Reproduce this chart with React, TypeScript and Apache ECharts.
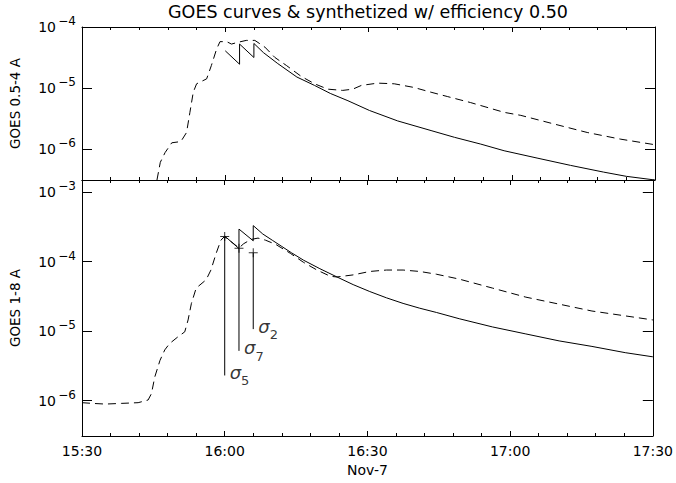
import React, { useEffect, useRef } from "react";
import * as echarts from "echarts";

// Time in minutes after 15:30 (Nov-7); flux in W/m^2
const xTickLabels = ["15:30", "16:00", "16:30", "17:00", "17:30"];
const xAxisName = "Nov-7";
const titleText = "GOES curves & synthetized w/ efficiency 0.50";
const topAxisName = "GOES 0.5-4 A";
const bottomAxisName = "GOES 1-8 A";
const topDecades = [-6, -5, -4];
const bottomDecades = [-6, -5, -4, -3];

// Top panel (0.5-4 A): observed (dashed)
const topObsTime = [15.7, 16.4, 17.4, 18.8, 20.7, 21.9, 22.6, 23.3, 24.0, 26.1, 27.1, 28.2, 28.9, 30.3, 31.3, 32.7, 34.4, 36.2, 38.3, 40.4, 42.8, 45.9, 48.7, 51.5, 54.6, 56.7, 58.5, 61.9, 65.4, 69.5, 73.1, 76.5, 81.4, 88.4, 91.9, 98.8, 105.8, 112.7, 120];
const topObsFlux = [3.09e-7, 6.03e-7, 8.71e-7, 1.26e-6, 1.32e-6, 1.86e-6, 3.98e-6, 8.51e-6, 1.17e-5, 1.41e-5, 2.34e-5, 4.37e-5, 5.75e-5, 5.75e-5, 5.25e-5, 5.62e-5, 6.03e-5, 6.03e-5, 4.68e-5, 3.16e-5, 2.34e-5, 1.55e-5, 1.17e-5, 9.55e-6, 9.12e-6, 9.55e-6, 1.10e-5, 1.20e-5, 1.17e-5, 1.02e-5, 8.51e-6, 7.24e-6, 5.75e-6, 3.98e-6, 3.55e-6, 2.57e-6, 1.86e-6, 1.45e-6, 1.17e-6];

// Top panel: synthesized (solid)
const topSynTime = [30, 33, 33, 36, 36, 38, 41, 45, 48.7, 52, 55.7, 60.2, 66.1, 73.1, 78, 83.5, 88.4, 95.3, 102.3, 109.2, 114, 120];
const topSynFlux = [4.07e-5, 2.45e-5, 5.25e-5, 3.16e-5, 5.37e-5, 3.80e-5, 2.51e-5, 1.51e-5, 1.10e-5, 8.13e-6, 6.17e-6, 4.27e-6, 2.88e-6, 2.00e-6, 1.55e-6, 1.20e-6, 9.33e-7, 7.08e-7, 5.37e-7, 4.17e-7, 3.55e-7, 3.09e-7];

// Bottom panel (1-8 A): observed (dashed)
const botObsTime = [0, 2.1, 4.9, 8.35, 11.8, 13.9, 14.6, 15.3, 16.4, 17.4, 18.4, 20.2, 21.6, 22.3, 23.0, 24.0, 26.1, 27.1, 28.2, 29.2, 29.9, 31.5, 33, 34, 35.5, 37, 38.6, 40.7, 43.8, 46.6, 49.4, 52.2, 53.6, 57.0, 60.5, 64.0, 67.5, 71.0, 74.5, 79.3, 86.3, 93.3, 100.3, 107.2, 114.2, 120];
const botObsFlux = [9.33e-7, 9.12e-7, 8.91e-7, 9.12e-7, 9.33e-7, 1.02e-6, 1.26e-6, 2.19e-6, 3.80e-6, 5.37e-6, 6.61e-6, 8.32e-6, 9.77e-6, 1.45e-5, 2.51e-5, 4.17e-5, 5.50e-5, 7.59e-5, 1.32e-4, 2.04e-4, 2.29e-4, 1.91e-4, 1.58e-4, 1.82e-4, 2.09e-4, 2.19e-4, 2.04e-4, 1.78e-4, 1.32e-4, 9.77e-5, 7.59e-5, 6.17e-5, 6.03e-5, 6.46e-5, 7.24e-5, 7.59e-5, 7.59e-5, 7.24e-5, 6.61e-5, 5.62e-5, 4.17e-5, 3.09e-5, 2.45e-5, 1.95e-5, 1.66e-5, 1.45e-5];

// Bottom panel: synthesized (solid)
const botSynTime = [30, 33, 33, 36, 36, 38, 40, 42, 44, 46.6, 50, 53.6, 57, 60.5, 64, 67.5, 71, 74.5, 79.3, 86.3, 93.3, 100.3, 107.2, 114.2, 120];
const botSynFlux = [2.34e-4, 1.55e-4, 2.95e-4, 2.00e-4, 3.31e-4, 2.51e-4, 2.04e-4, 1.66e-4, 1.35e-4, 1.05e-4, 7.94e-5, 6.03e-5, 4.68e-5, 3.72e-5, 3.02e-5, 2.51e-5, 2.14e-5, 1.86e-5, 1.51e-5, 1.15e-5, 9.12e-6, 7.24e-6, 6.03e-6, 4.90e-6, 4.27e-6];

// Sigma markers
const sigmaTime = [30, 33, 36];
const sigmaTop = [2.3e-4, 1.56e-4, 1.35e-4];
const sigmaBottom = [2.3e-6, 5.2e-6, 1.07e-5];
const sigmaNames = ["5", "7", "2"];

const FONT = "DejaVu Sans";
const L = (v: number) => Math.log10(v);
const pairs = (t: number[], f: number[]) => t.map((x, i) => [x, L(f[i])]);

export default function App() {
  const ref = useRef<HTMLDivElement>(null);
  useEffect(() => {
    if (!ref.current) return;
    const chart = echarts.init(ref.current, null, { renderer: "svg" });
    const black = "#000";
    const xBase = (gridIndex: number, position: string, labels: boolean) => ({
      type: "value",
      gridIndex,
      position,
      min: 0,
      max: 120,
      interval: 30,
      axisLine: { show: true, onZero: false, lineStyle: { color: black, width: 1 } },
      axisTick: { show: true, inside: true, length: 5, lineStyle: { color: black } },
      minorTick: { show: true, splitNumber: 5, length: 3, lineStyle: { color: black } },
      splitLine: { show: false },
      minorSplitLine: { show: false },
      axisLabel: labels
        ? {
            show: true,
            margin: 8,
            color: black,
            fontFamily: FONT,
            fontSize: 14,
            showMinLabel: true,
            showMaxLabel: true,
            formatter: (v: number) => xTickLabels[Math.round(v / 30)] ?? "",
          }
        : { show: false },
    });
    // main y axis: frame line, ticks, mantissa "10"
    const yMain = (gridIndex: number, position: string, min: number, max: number, decades: number[], labels: boolean, name: string) => ({
      type: "value",
      gridIndex,
      position,
      min,
      max,
      name: labels ? name : "",
      nameLocation: "middle",
      nameGap: 60,
      nameTextStyle: { fontFamily: FONT, fontSize: 13.5, color: black },
      axisLine: { show: true, onZero: false, lineStyle: { color: black, width: 1 } },
      axisTick: { show: true, inside: true, length: 10, customValues: decades, lineStyle: { color: black } },
      splitLine: { show: false },
      axisLabel: labels
        ? {
            show: true,
            customValues: decades,
            margin: 26,
            color: black,
            fontFamily: FONT,
            fontSize: 14,
            formatter: () => "10",
          }
        : { show: false },
    });
    // exponent-only y axis (superscripts)
    const yExp = (gridIndex: number, min: number, max: number, decades: number[]) => ({
      type: "value",
      gridIndex,
      position: "left",
      offset: 0,
      min,
      max,
      axisLine: { show: false, onZero: false },
      axisTick: { show: false },
      splitLine: { show: false },
      axisLabel: {
        show: true,
        customValues: decades,
        margin: 6,
        color: black,
        fontFamily: FONT,
        fontSize: 12,
        lineHeight: 12,
        verticalAlign: "bottom",
        formatter: (v: number) => `\u2212${Math.abs(Math.round(v))}`,
      },
    });

    const topMin = -6.51, topMax = -4;
    const botMin = -6.51, botMax = -2.823;

    const sigmaSeries = sigmaTime.map((t, i) => ({
      type: "line",
      xAxisIndex: 2,
      yAxisIndex: 3,
      data: [[t, L(sigmaBottom[i])], [t, L(sigmaTop[i])]],
      symbol: "none",
      lineStyle: { color: black, width: 1 },
      silent: true,
    }));

    chart.setOption({
      animation: false,
      backgroundColor: "#fff",
      grid: [
        { left: 80, top: 27, width: 575, height: 153 },
        { left: 80, top: 180, width: 575, height: 256 },
      ],
      xAxis: [
        xBase(0, "bottom", false),
        xBase(0, "top", false),
        { ...xBase(1, "bottom", true), name: xAxisName, nameLocation: "middle", nameGap: 25, nameTextStyle: { fontFamily: FONT, fontSize: 14, color: black } },
        xBase(1, "top", false),
      ],
      yAxis: [
        yMain(0, "left", topMin, topMax, topDecades, true, topAxisName),
        yMain(0, "right", topMin, topMax, topDecades, false, ""),
        yExp(0, topMin, topMax, topDecades),
        yMain(1, "left", botMin, botMax, bottomDecades, true, bottomAxisName),
        yMain(1, "right", botMin, botMax, bottomDecades, false, ""),
        yExp(1, botMin, botMax, bottomDecades),
      ],
      graphic: [
        {
          type: "text",
          x: 368,
          y: 12,
          style: {
            text: titleText,
            fontFamily: FONT,
            fontSize: 17.5,
            fill: black,
            textAlign: "center",
            textVerticalAlign: "middle",
          },
        },
      ],
      series: [
        {
          type: "line",
          xAxisIndex: 0,
          yAxisIndex: 0,
          data: pairs(topObsTime, topObsFlux),
          symbol: "none",
          lineStyle: { color: black, width: 1, type: [8, 5] },
        },
        {
          type: "line",
          xAxisIndex: 0,
          yAxisIndex: 0,
          data: pairs(topSynTime, topSynFlux),
          symbol: "none",
          lineStyle: { color: black, width: 1 },
        },
        {
          type: "line",
          xAxisIndex: 2,
          yAxisIndex: 3,
          data: pairs(botObsTime, botObsFlux),
          symbol: "none",
          lineStyle: { color: black, width: 1, type: [8, 5] },
        },
        {
          type: "line",
          xAxisIndex: 2,
          yAxisIndex: 3,
          data: pairs(botSynTime, botSynFlux),
          symbol: "none",
          lineStyle: { color: black, width: 1 },
        },
        ...sigmaSeries,
        {
          type: "scatter",
          xAxisIndex: 2,
          yAxisIndex: 3,
          data: pairs(sigmaTime, sigmaTop),
          symbol: "path://M4,0H5V4H9V5H5V9H4V5H0V4H4Z",
          symbolSize: 9,
          itemStyle: { color: black },
          silent: true,
        },
        {
          type: "scatter",
          xAxisIndex: 2,
          yAxisIndex: 3,
          data: pairs(sigmaTime, sigmaBottom),
          symbol: "circle",
          symbolSize: 0,
          itemStyle: { color: "transparent" },
          silent: true,
          label: {
            show: true,
            position: "right",
            distance: 5,
            formatter: (p: any) => `{a|σ}{b|${sigmaNames[p.dataIndex]}}`,
            rich: {
              a: { fontFamily: FONT, fontSize: 18, fontStyle: "italic", lineHeight: 24, verticalAlign: "top", color: black },
              b: { fontFamily: FONT, fontSize: 13, lineHeight: 14, verticalAlign: "bottom", color: black },
            },
          },
        },
      ],
    });
    return () => chart.dispose();
  }, []);
  return <div ref={ref} style={{ position: "fixed", left: 0, top: 0, width: 676, height: 483, background: "#fff" }} />;
}
